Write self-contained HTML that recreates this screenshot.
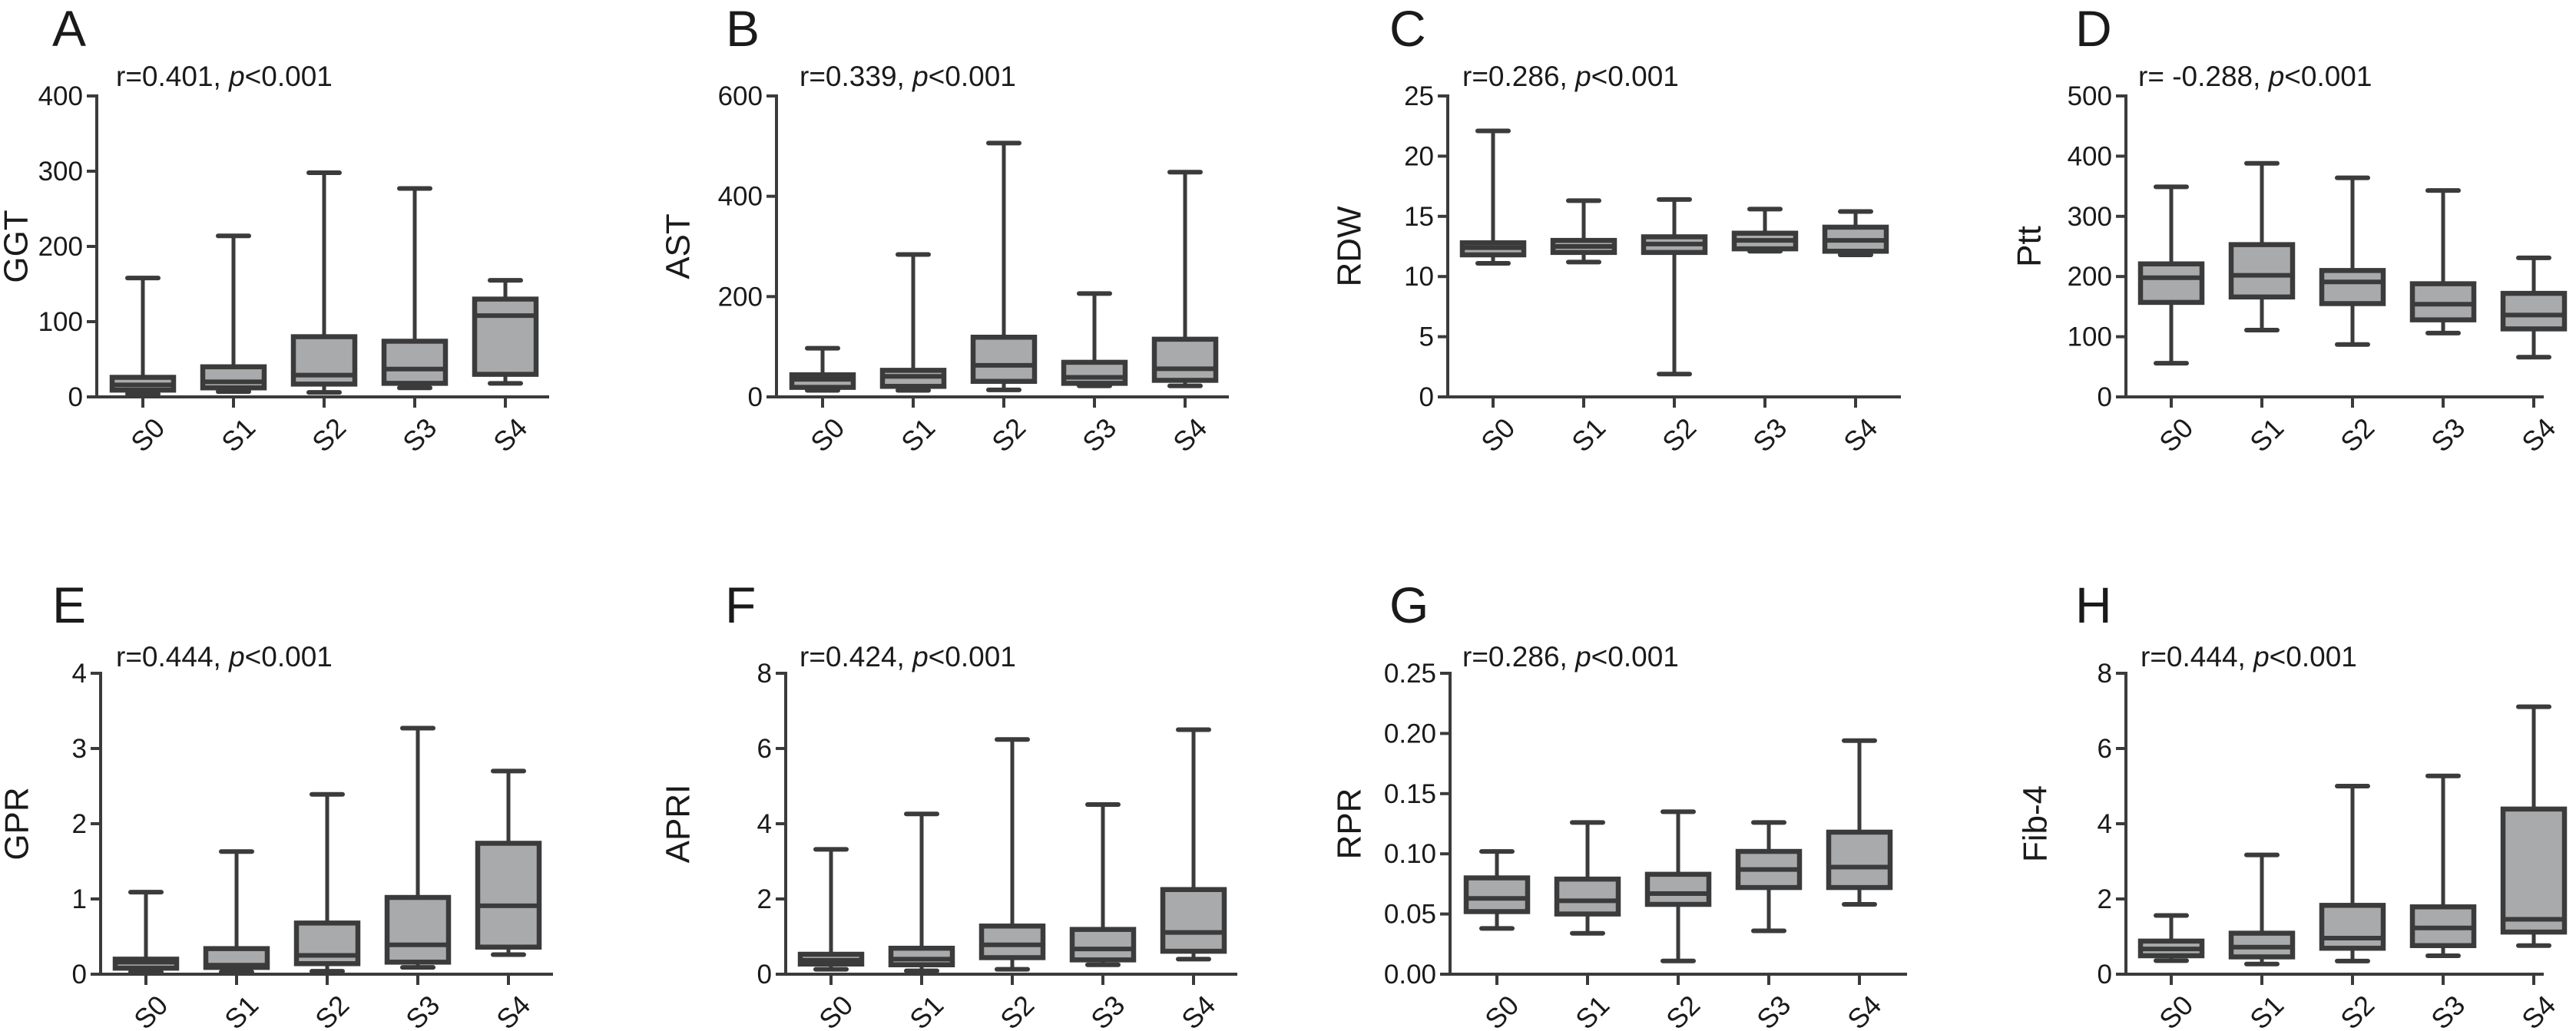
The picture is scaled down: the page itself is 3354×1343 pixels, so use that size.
<!DOCTYPE html>
<html><head><meta charset="utf-8">
<style>
html,body{margin:0;padding:0;background:#fff;}
svg{display:block;font-family:"Liberation Sans",Arial,sans-serif;}
</style></head>
<body>
<svg id="fig" width="3354" height="1343" viewBox="0 0 3354 1343" xmlns="http://www.w3.org/2000/svg"></svg>
<script>
const categories = ["S0","S1","S2","S3","S4"];

const ggtLow=[4,7,6,12,18], ggtQ1=[9,12,17,18,30], ggtMed=[16,20,29,37,108], ggtQ3=[26,40,80,74,130], ggtHigh=[158,214,298,277,155];
const ggtTicks=[0,100,200,300,400];
const astLow=[13,13,14,22,22], astQ1=[19,21,31,27,33], astMed=[35,41,63,39,56], astQ3=[44,53,119,69,115], astHigh=[97,284,506,206,448];
const astTicks=[0,200,400,600];
const rdwLow=[11.1,11.2,1.9,12.1,11.8], rdwQ1=[11.8,12.0,12.0,12.3,12.1], rdwMed=[12.4,12.5,12.7,13.0,13.0], rdwQ3=[12.8,13.0,13.3,13.6,14.1], rdwHigh=[22.1,16.3,16.4,15.6,15.4];
const rdwTicks=[0,5,10,15,20,25];
const pttLow=[56,111,87,106,66], pttQ1=[157,166,155,128,113], pttMed=[198,202,191,154,136], pttQ3=[221,253,210,188,172], pttHigh=[349,388,364,343,231];
const pttTicks=[0,100,200,300,400,500];
const gprLow=[0.03,0.03,0.04,0.09,0.26], gprQ1=[0.08,0.09,0.14,0.16,0.36], gprMed=[0.16,0.12,0.25,0.39,0.91], gprQ3=[0.20,0.34,0.68,1.02,1.74], gprHigh=[1.09,1.63,2.39,3.27,2.70];
const gprTicks=[0,1,2,3,4];
const apriLow=[0.13,0.09,0.13,0.25,0.40], apriQ1=[0.27,0.25,0.44,0.38,0.61], apriMed=[0.37,0.40,0.78,0.67,1.11], apriQ3=[0.53,0.69,1.28,1.19,2.25], apriHigh=[3.32,4.26,6.24,4.51,6.50];
const apriTicks=[0,2,4,6,8];
const rprLow=[0.038,0.034,0.011,0.036,0.058], rprQ1=[0.052,0.050,0.058,0.072,0.072], rprMed=[0.063,0.061,0.067,0.087,0.089], rprQ3=[0.080,0.079,0.083,0.102,0.118], rprHigh=[0.102,0.126,0.135,0.126,0.194];
const rprTicks=[0,0.05,0.10,0.15,0.20,0.25];
const rprTickLabels=["0.00","0.05","0.10","0.15","0.20","0.25"];
const fibLow=[0.36,0.27,0.35,0.49,0.76], fibQ1=[0.49,0.46,0.69,0.76,1.12], fibMed=[0.67,0.72,0.96,1.23,1.46], fibQ3=[0.88,1.09,1.83,1.79,4.39], fibHigh=[1.56,3.17,5.00,5.27,7.11];
const fibTicks=[0,2,4,6,8];

const NS="http://www.w3.org/2000/svg";
const svg=document.getElementById('fig');
const STROKE="#3b3b3b", FILL="#a9aaac";

function mk(tag, attrs, parent){
  const e=document.createElementNS(NS,tag);
  for(const k in attrs) e.setAttribute(k,attrs[k]);
  parent.appendChild(e);
  return e;
}

const panels=[
 {id:"a",letter:"A",title:"GGT",r:"r=0.401, ",ax:126,cat0:186,step:118,xEnd:715,top:125,zero:517,max:400,ticks:ggtTicks,tl:null,lx:68,rx:151,tx:21,row:0,d:[ggtLow,ggtQ1,ggtMed,ggtQ3,ggtHigh]},
 {id:"b",letter:"B",title:"AST",r:"r=0.339, ",ax:1011,cat0:1071,step:118,xEnd:1600,top:125,zero:517,max:600,ticks:astTicks,tl:null,lx:945,rx:1041,tx:883,row:0,d:[astLow,astQ1,astMed,astQ3,astHigh]},
 {id:"c",letter:"C",title:"RDW",r:"r=0.286, ",ax:1885,cat0:1944,step:118,xEnd:2475,top:125,zero:517,max:25,ticks:rdwTicks,tl:null,lx:1809,rx:1904,tx:1757,row:0,d:[rdwLow,rdwQ1,rdwMed,rdwQ3,rdwHigh]},
 {id:"d",letter:"D",title:"Ptt",r:"r= -0.288, ",ax:2768,cat0:2827,step:118,xEnd:3312,top:125,zero:517,max:500,ticks:pttTicks,tl:null,lx:2702,rx:2784,tx:2642,row:0,d:[pttLow,pttQ1,pttMed,pttQ3,pttHigh]},
 {id:"e",letter:"E",title:"GPR",r:"r=0.444, ",ax:131,cat0:190,step:118,xEnd:720,top:877,zero:1269,max:4,ticks:gprTicks,tl:null,lx:68,rx:151,tx:22,row:1,d:[gprLow,gprQ1,gprMed,gprQ3,gprHigh]},
 {id:"f",letter:"F",title:"APRI",r:"r=0.424, ",ax:1023,cat0:1082,step:118,xEnd:1611,top:877,zero:1269,max:8,ticks:apriTicks,tl:null,lx:944,rx:1041,tx:883,row:1,d:[apriLow,apriQ1,apriMed,apriQ3,apriHigh]},
 {id:"g",letter:"G",title:"RPR",r:"r=0.286, ",ax:1888,cat0:1949,step:118,xEnd:2483,top:877,zero:1269,max:0.25,ticks:rprTicks,tl:rprTickLabels,lx:1809,rx:1904,tx:1757,row:1,d:[rprLow,rprQ1,rprMed,rprQ3,rprHigh]},
 {id:"h",letter:"H",title:"Fib-4",r:"r=0.444, ",ax:2768,cat0:2827,step:118,xEnd:3312,top:877,zero:1269,max:8,ticks:fibTicks,tl:null,lx:2702,rx:2787,tx:2650,row:1,d:[fibLow,fibQ1,fibMed,fibQ3,fibHigh]}
];

panels.forEach(p=>{
  const g=mk('g',{},svg);
  
  
  const y=v=>p.zero-(v/p.max)*(p.zero-p.top);
  const x=i=>p.cat0+i*p.step;
  const labBase = p.row===0?60:811;
  const annBase = p.row===0?112:868;

  const L=mk('text',{x:p.lx,y:labBase,'font-size':66,fill:'#1a1a1a'},g);
  L.textContent=p.letter;
  
  

  const A=mk('text',{x:p.rx,y:annBase,'font-size':37,fill:'#1a1a1a'},g);
  
  
  const t1=mk('tspan',{},A); t1.textContent=p.r;
  const t2=mk('tspan',{'font-style':'italic'},A); t2.textContent='p';
  const t3=mk('tspan',{},A); t3.textContent='<0.001';

  const cy=(p.top+p.zero)/2;
  const T=mk('text',{x:p.tx,y:cy,'font-size':44,fill:'#1a1a1a','text-anchor':'middle','dominant-baseline':'central',transform:`rotate(-90 ${p.tx} ${cy})`},g);
  T.textContent=p.title;
  
  

  const ya=mk('line',{x1:p.ax,y1:p.top-2,x2:p.ax,y2:p.zero,stroke:STROKE,'stroke-width':4},g);
  
  
  const xa=mk('line',{x1:p.ax-13,y1:p.zero,x2:p.xEnd,y2:p.zero,stroke:STROKE,'stroke-width':4},g);
  
  

  p.ticks.forEach((t,i)=>{
    const ty=y(t);
    const tk=mk('line',{x1:p.ax-13,y1:ty,x2:p.ax,y2:ty,stroke:STROKE,'stroke-width':4},g);
    
    
    const tl=mk('text',{x:p.ax-18,y:ty+12,'font-size':35,fill:'#1a1a1a','text-anchor':'end'},g);
    tl.textContent=p.tl?p.tl[i]:String(t);
    
    
  });

  categories.forEach((c,i)=>{
    const cx=x(i);
    const tk=mk('line',{x1:cx,y1:p.zero,x2:cx,y2:p.zero+14,stroke:STROKE,'stroke-width':4},g);
    
    
    const lx=cx+12, ly=p.zero+24;
    const cl=mk('text',{x:lx,y:ly,'font-size':36,fill:'#1a1a1a','text-anchor':'end','dominant-baseline':'hanging',transform:`rotate(-45 ${lx} ${ly})`},g);
    cl.textContent=c;
    
    

    const lo=p.d[0][i], q1=p.d[1][i], md=p.d[2][i], q3=p.d[3][i], hi=p.d[4][i];
    const bg=mk('g',{},g);
    
    
    mk('line',{x1:cx,y1:y(hi),x2:cx,y2:y(q3),stroke:STROKE,'stroke-width':5},bg);
    mk('line',{x1:cx,y1:y(q1),x2:cx,y2:y(lo),stroke:STROKE,'stroke-width':5},bg);
    mk('line',{x1:cx-20,y1:y(hi),x2:cx+20,y2:y(hi),stroke:STROKE,'stroke-width':6,'stroke-linecap':'round'},bg);
    mk('line',{x1:cx-20,y1:y(lo),x2:cx+20,y2:y(lo),stroke:STROKE,'stroke-width':6,'stroke-linecap':'round'},bg);
    mk('rect',{x:cx-40,y:y(q3),width:80,height:Math.max(1,y(q1)-y(q3)),fill:FILL,stroke:STROKE,'stroke-width':6.5},bg);
    mk('line',{x1:cx-40,y1:y(md),x2:cx+40,y2:y(md),stroke:STROKE,'stroke-width':6},bg);
  });
});
</script>
</body></html>
